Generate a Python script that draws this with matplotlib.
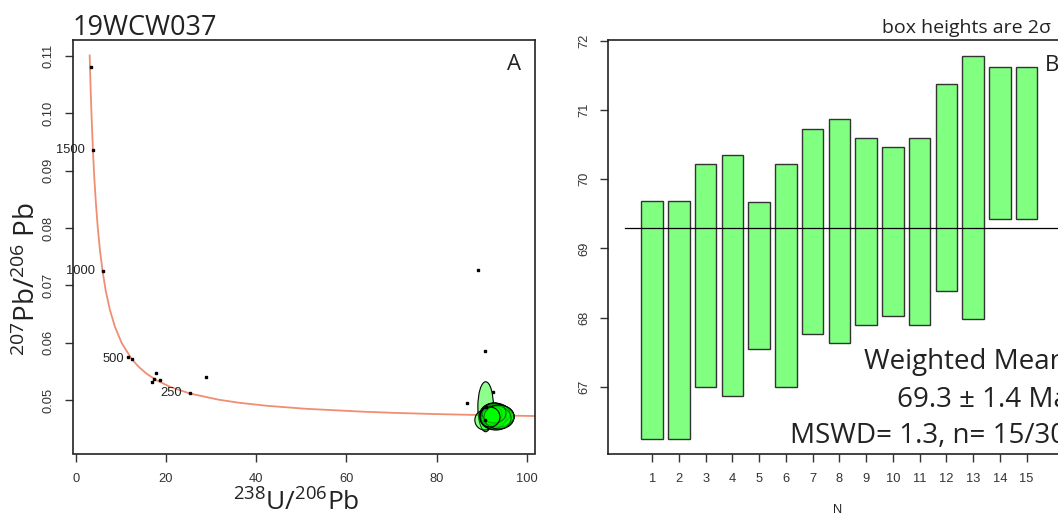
import matplotlib
matplotlib.use('Agg')
import matplotlib.pyplot as plt
from matplotlib.patches import Ellipse

plt.rcParams['font.family'] = ['Liberation Sans', 'DejaVu Sans']
plt.rcParams['mathtext.fontset'] = 'custom'
plt.rcParams['mathtext.rm'] = 'Open Sans'
plt.rcParams['mathtext.it'] = 'Open Sans:italic'
plt.rcParams['mathtext.bf'] = 'Open Sans:bold'

# ---------------- data: panel A (Tera-Wasserburg) ----------------
sample_name = "19WCW037"
conc_x = [3.10, 3.31, 3.55, 3.82, 4.12, 4.48, 4.89, 5.37, 5.96, 6.67, 7.57, 8.72,
          10.25, 12.40, 13.83, 15.62, 17.92, 20.99, 25.29, 31.73, 36.34, 42.48,
          51.07, 63.97, 71.13, 80.08, 91.59, 103.48]
conc_y = [0.11004, 0.10419, 0.09872, 0.09360, 0.08881, 0.08432, 0.08012, 0.07619,
          0.07250, 0.06904, 0.06580, 0.06276, 0.05990, 0.05722, 0.05594, 0.05470,
          0.05350, 0.05233, 0.05120, 0.05011, 0.04957, 0.04905, 0.04853, 0.04802,
          0.04781, 0.04761, 0.04741, 0.04725]

age_labels = ["1500", "1000", "500", "250"]
age_x = [3.82, 5.96, 12.40, 25.29]
age_y = [0.09360, 0.07250, 0.05722, 0.05120]

pt_x = [3.39, 11.5, 17.8, 17.4, 17.0, 18.7, 28.9, 89.2, 90.8, 86.8, 92.6, 90.9, 90.7]
pt_y = [0.1081, 0.05758, 0.05470, 0.05365, 0.05324, 0.05353, 0.05411, 0.07273,
        0.05852, 0.04948, 0.05139, 0.04889, 0.04657]

ell_x = [90.90, 90.70, 92.31, 92.75, 93.19, 93.42, 92.97, 92.53, 93.64, 92.09,
         93.19, 92.75, 93.86, 91.86]
ell_y = [0.04889, 0.04657, 0.04727, 0.04744, 0.04727, 0.04710, 0.04762, 0.04692,
         0.04727, 0.04744, 0.04692, 0.04779, 0.04710, 0.04710]
ell_w = [1.73, 2.20, 2.66, 3.10, 3.55, 3.77, 3.33, 2.88, 3.55, 2.44, 3.33, 2.66,
         3.33, 2.22]
ell_h = [0.00435, 0.00174, 0.00191, 0.00209, 0.00209, 0.00209, 0.00191, 0.00191,
         0.00191, 0.00174, 0.00209, 0.00174, 0.00209, 0.00174]

ax_xticks = [0, 20, 40, 60, 80, 100]
ax_yticks = [0.05, 0.06, 0.07, 0.08, 0.09, 0.10, 0.11]
ax_yticklabels = ["0.05", "0.06", "0.07", "0.08", "0.09", "0.10", "0.11"]

# ---------------- data: panel B (weighted mean) ----------------
bar_n = list(range(1, 16))
bar_top = [69.69, 69.69, 70.215, 70.345, 69.675, 70.215, 70.73, 70.865, 70.60, 70.46,
           70.60, 71.38, 71.78, 71.615, 71.615]
bar_bot = [66.25, 66.25, 67.005, 66.87, 67.545, 67.005, 67.76, 67.63, 67.90, 68.03,
           67.90, 68.385, 67.98, 69.42, 69.42]
wmean = 69.3
bx_yticks = [67, 68, 69, 70, 71, 72]

W, H = 1058, 516
fig = plt.figure(figsize=(W / 100, H / 100), dpi=100)

def fx(px):
    return px / W

def fy(py):
    return 1 - py / H

dark = '#222222'
tick_kw = dict(direction='out', length=6, width=1, color='#333333',
               labelsize=9.3, labelcolor='#333333')

# ---------------- panel A ----------------
axA = fig.add_axes([fx(72.7), fy(453.5), fx(535) - fx(72.7), fy(40) - fy(453.5)])
axA.plot(conc_x, conc_y, color='#EF8E72', lw=1.3, zorder=2)
for x, y, w, h in zip(ell_x, ell_y, ell_w, ell_h):
    axA.add_patch(Ellipse((x, y), 2 * w, 2 * h, facecolor=(0, 1, 0, 0.45),
                          edgecolor='black', lw=0.8, zorder=3))
axA.plot(pt_x, pt_y, 's', color='black', ms=1.8, zorder=4)
axA.plot(age_x, age_y, 's', color='black', ms=1.5, zorder=4)
for lab, x, y in zip(age_labels, age_x, age_y):
    axA.annotate(lab, (x, y), xytext=(-5.5, 0), textcoords='offset points',
                 ha='right', va='center', fontsize=9.3, color=dark)
axA.set_xlim(-0.665, 101.84)
axA.set_ylim(0.04075, 0.11273)
axA.set_xticks(ax_xticks)
axA.set_yticks(ax_yticks)
axA.set_yticklabels(ax_yticklabels, rotation=90, va='center')
axA.tick_params(axis='both', **tick_kw)
axA.tick_params(axis='x', pad=8)
axA.tick_params(axis='y', pad=7)
for s in axA.spines.values():
    s.set_linewidth(1.2)
    s.set_color(dark)
axA.text(0.94, 0.965, 'A', transform=axA.transAxes, ha='left', va='top',
         fontsize=16, family='Open Sans', color=dark)

# ---------------- panel B ----------------
axB = fig.add_axes([fx(608.3), fy(454), fx(1070.5) - fx(608.3), fy(40) - fy(454)])
heights = [t - b for t, b in zip(bar_top, bar_bot)]
axB.bar(bar_n, heights, bottom=bar_bot, width=0.8, color='#80FF80',
        edgecolor='#333333', linewidth=1, zorder=2)
axB.plot([0, 17], [wmean, wmean], color='black', lw=0.9, zorder=3)
axB.set_xlim(-0.64, 16.64)
axB.set_ylim(66.03, 72.01)
axB.set_xticks(bar_n)
axB.set_yticks(bx_yticks)
axB.set_yticklabels([str(v) for v in bx_yticks], rotation=90, va='center')
axB.tick_params(axis='both', **tick_kw)
axB.tick_params(axis='x', pad=8)
axB.tick_params(axis='y', pad=7)
for s in axB.spines.values():
    s.set_linewidth(1.2)
    s.set_color(dark)

# ---------------- texts ----------------
fig.text(fx(72.7), fy(35), sample_name, ha='left', va='baseline', fontsize=19.5,
         family='Open Sans', color=dark)
fig.text(fx(296), fy(511), r'$\mathregular{^{238}}$U/$\mathregular{^{206}}$Pb',
         ha='center', va='baseline', fontsize=19, family='Open Sans', color=dark)
fig.text(fx(35), fy(279), r'$\mathregular{^{207}}$Pb/$\mathregular{^{206}}$ Pb',
         ha='center', va='baseline', rotation=90, rotation_mode='anchor',
         fontsize=20, family='Open Sans', color=dark)
fig.text(fx(838), fy(510), 'N', ha='center', va='center', fontsize=9.3, color=dark)
fig.text(fx(1050.7), fy(33), 'box heights are 2σ', ha='right', va='baseline',
         fontsize=14, family='Open Sans', color=dark)
fig.text(fx(1045), fy(70.7), 'B', ha='left', va='baseline', fontsize=16,
         family='Open Sans', color=dark)
fig.text(fx(864), fy(369), 'Weighted Mean', ha='left', va='baseline', fontsize=20,
         family='Open Sans', color=dark)
fig.text(fx(896.7), fy(407.3), '69.3 ± 1.4 Ma', ha='left', va='baseline', fontsize=20,
         family='Open Sans', color=dark)
fig.text(fx(790), fy(443.3), 'MSWD= 1.3, n= 15/30', ha='left', va='baseline',
         fontsize=20, family='Open Sans', color=dark)

fig.savefig('out.png', dpi=100)
